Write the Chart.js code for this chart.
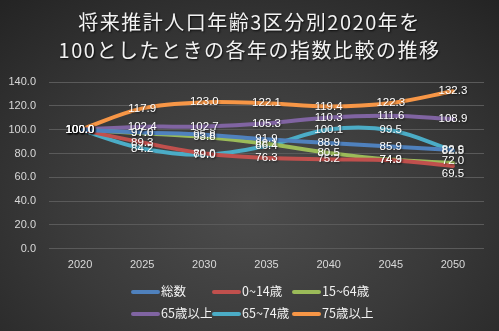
<!DOCTYPE html>
<html><head><meta charset="utf-8">
<script src="https://cdn.jsdelivr.net/npm/chart.js@4/dist/chart.umd.min.js"></script>
<style>
html,body{margin:0;padding:0;}
#wrap{position:relative;width:499px;height:331px;overflow:hidden;
background:radial-gradient(ellipse 75% 85% at 50% 62%, #4d4d4d 0%, #3a3a3a 50%, #232323 100%);}
#title{position:absolute;left:0;top:8px;width:499px;text-align:center;color:#f2f2f2;
font-family:"Noto Sans CJK JP",sans-serif;font-size:20px;line-height:28px;letter-spacing:1.5px;
text-shadow:1px 1px 2px rgba(0,0,0,0.8);font-weight:400;}
#c{position:absolute;left:0;top:0;}
#legend{position:absolute;left:0;top:280px;width:499px;height:44px;font-family:"Noto Sans CJK JP",sans-serif;font-size:12.5px;color:#f2f2f2;}
.li{position:absolute;height:20px;line-height:20px;white-space:nowrap;}
.li span.sw{display:inline-block;width:29px;height:4px;border-radius:2px;vertical-align:middle;margin-right:1px;position:relative;top:-1px;}
</style></head>
<body><div id="wrap">
<canvas id="c" width="499" height="331"></canvas>
<div id="title">将来推計人口年齢3区分別2020年を<br>100としたときの各年の指数比較の推移</div>
<div id="legend"></div>
</div>
<script>
const years = ["2020","2025","2030","2035","2040","2045","2050"];
const seriesNames = ["総数","0~14歳","15~64歳","65歳以上","65~74歳","75歳以上"];
const total   = [100.0, 97.6, 95.8, 91.9, 88.9, 85.9, 82.9];
const age0_14 = [100.0, 89.3, 80.0, 76.3, 75.2, 74.3, 69.5];
const age15_64= [100.0, 97.0, 93.8, 88.1, 80.5, 74.9, 72.0];
const age65up = [100.0, 102.4, 102.7, 105.3, 110.3, 111.6, 108.9];
const age65_74= [100.0, 84.2, 79.0, 86.4, 100.1, 99.5, 82.5];
const age75up = [100.0, 117.9, 123.0, 122.1, 119.4, 122.3, 132.3];
const colors = ["#4F81BD","#C0504D","#9BBB59","#8064A2","#4BACC6","#F79646"];
const seriesData = [total, age0_14, age15_64, age65up, age65_74, age75up];

const labelPlugin = {
  id:'pointLabels',
  afterDatasetsDraw(chart){
    const ctx = chart.ctx;
    ctx.save();
    ctx.font = '11.5px "Liberation Sans", sans-serif';
    ctx.textAlign = 'center';
    ctx.textBaseline = 'middle';
    ctx.fillStyle = '#ffffff';
    ctx.shadowColor = 'rgba(0,0,0,0.6)';
    ctx.shadowBlur = 2;
    ctx.shadowOffsetX = 1; ctx.shadowOffsetY = 1;
    chart.data.datasets.forEach((ds, i) => {
      const meta = chart.getDatasetMeta(i);
      meta.data.forEach((pt, j) => {
        let dy = 0;
        if (i === 1 && j === ds.data.length - 1) dy = 8;
        if (i === 2 && j === ds.data.length - 1) dy = -2;
        ctx.fillText(ds.data[j].toFixed(1), pt.x, pt.y + dy);
      });
    });
    ctx.restore();
  }
};

new Chart(document.getElementById('c'), {
  type:'line',
  data:{
    labels: years,
    datasets: seriesData.map((d,i)=>({
      label: seriesNames[i], data: d, borderColor: colors[i], backgroundColor: colors[i],
      borderWidth: 4, pointRadius: 0, tension: 0.35, fill:false, borderCapStyle:'round'
    }))
  },
  options:{
    responsive:false, animation:false,
    layout:{padding:{top:82,left:0,right:15,bottom:49}},
    plugins:{legend:{display:false}, title:{display:false}, tooltip:{enabled:false}},
    scales:{
      x:{offset:true, grid:{display:false, drawTicks:false}, border:{display:false},
         ticks:{color:'#d9d9d9', font:{family:'"Liberation Sans", sans-serif', size:11}, padding:10}},
      y:{min:0,max:140, ticks:{stepSize:20, color:'#d9d9d9', font:{family:'"Liberation Sans", sans-serif', size:11}, padding:13,
           callback:v=>v.toFixed(1)},
         grid:{color:'#5a5a5a', drawTicks:false}, border:{display:false},
         afterFit(s){ s.width = 49; }}
    }
  },
  plugins:[labelPlugin]
});

const lg = document.getElementById('legend');
const xs = [131, 212, 292];
seriesNames.forEach((n,i)=>{
  const d = document.createElement('div');
  d.className='li';
  d.style.left = xs[i%3]+'px';
  d.style.top = (i<3?1:23)+'px';
  d.innerHTML = '<span class="sw" style="background:'+colors[i]+'"></span>'+n;
  lg.appendChild(d);
});
</script>
</body></html>
